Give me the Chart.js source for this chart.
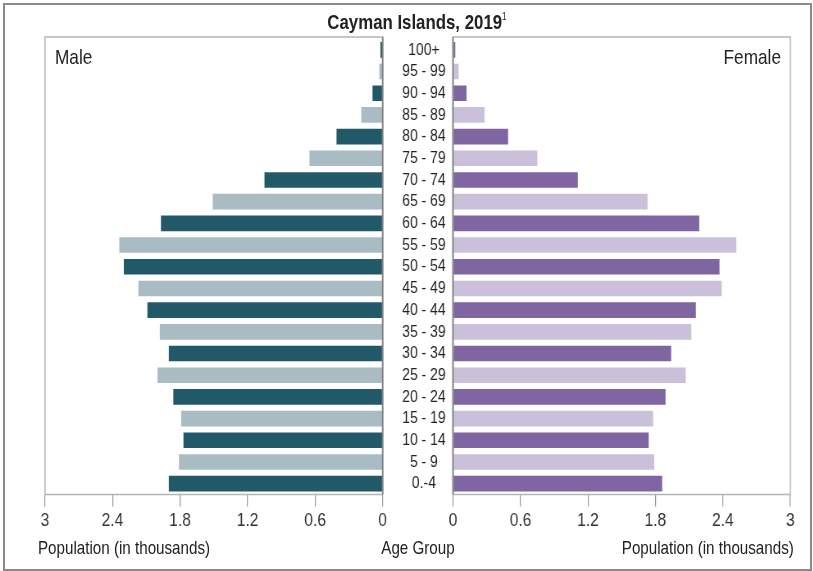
<!DOCTYPE html>
<html>
<head>
<meta charset="utf-8">
<script src="https://cdn.jsdelivr.net/npm/chart.js@4.4.1/dist/chart.umd.min.js"></script>
<style>
  body { margin: 0; background: #fff; }
  #wrap { position: relative; width: 813px; height: 571px; overflow: hidden;
          font-family: "Liberation Sans", Arial, sans-serif; color: #222; }
  #frame { position: absolute; left: 3px; top: 3px; width: 805px; height: 564px; border: 2px solid #8a8a8a; }
  /* no narrow face installed: squeeze the canvases sideways so the text reads like Arial Narrow */
  canvas { position: absolute; top: 0; transform: scaleX(0.82); transform-origin: 0 0; }
  .txt { position: absolute; white-space: nowrap; line-height: 1; }
  .l { transform: scaleX(0.82); transform-origin: 0 50%; }
  .r { transform: scaleX(0.82); transform-origin: 100% 50%; }
  .c { transform: scaleX(0.82); transform-origin: 50% 50%; }
</style>
</head>
<body>
<div id="wrap">
  <div id="frame"></div>
  <canvas id="maleChart" height="571" style="left:0"></canvas>
  <canvas id="femaleChart" height="571" style="left:423px"></canvas>
  <div class="txt c" style="left:0;width:834px;text-align:center;top:12px;font-size:20.5px;font-weight:bold;">Cayman Islands, 2019<sup style="font-size:10px;vertical-align:top;position:relative;top:0px;font-weight:normal">1</sup></div>
  <div class="txt l" style="left:55px;top:46px;font-size:21px;">Male</div>
  <div class="txt r" style="right:32px;top:46px;font-size:21px;">Female</div>
  <div class="txt l" style="left:38px;top:539px;font-size:18.5px;">Population (in thousands)</div>
  <div class="txt c" style="left:0;width:836px;text-align:center;top:539px;font-size:18.5px;">Age Group</div>
  <div class="txt r" style="right:19px;top:539px;font-size:18.5px;">Population (in thousands)</div>
</div>
<script>
var ageGroups = ['100+','95 - 99','90 - 94','85 - 89','80 - 84','75 - 79','70 - 74','65 - 69','60 - 64','55 - 59','50 - 54',
                 '45 - 49','40 - 44','35 - 39','30 - 34','25 - 29','20 - 24','15 - 19','10 - 14','5 - 9','0.-4'];
var male   = [0.02,0.03,0.09,0.19,0.41,0.65,1.05,1.51,1.97,2.34,2.30,2.17,2.09,1.98,1.90,2.00,1.86,1.79,1.77,1.81,1.90];
var female = [0.02,0.05,0.12,0.28,0.49,0.75,1.11,1.73,2.19,2.52,2.37,2.39,2.16,2.12,1.94,2.07,1.89,1.78,1.74,1.79,1.86];
var xTicks = [0,0.6,1.2,1.8,2.4,3];

var S = 0.82;   // same as the css scaleX on the canvases
var FONT = '"Liberation Sans", Arial, sans-serif';

document.getElementById('maleChart').width = Math.round(453/S);
document.getElementById('femaleChart').width = Math.round(390/S);

function stripes(dark, light){
	return ageGroups.map(function(g,i){ return i%2===0 ? dark : light; });
}

// frame round the plot area + darker zero line
var boxPlugin = {
	id: 'box',
	afterDraw: function(chart){
		var a = chart.chartArea, ctx = chart.ctx;
		var zero = chart.scales.x.getPixelForValue(0);
		ctx.save();
		ctx.strokeStyle = '#b4b4b4';
		ctx.lineWidth = 1.5;
		ctx.strokeRect(a.left, a.top - 2, a.right - a.left, a.bottom - a.top + 2);
		ctx.strokeStyle = '#808080';
		ctx.lineWidth = 1.8;
		ctx.beginPath();
		ctx.moveTo(zero, a.top - 2);
		ctx.lineTo(zero, a.bottom);
		ctx.stroke();
		ctx.restore();
	}
};

function xAxis(reverse){
	return {
		type: 'linear',
		min: 0,
		max: 3,
		reverse: reverse,
		afterBuildTicks: function(s){ s.ticks = xTicks.map(function(v){ return {value: v}; }); },
		afterFit: function(s){ s.height = 40; },
		grid: { display: true, drawOnChartArea: false, drawTicks: true, tickLength: 12, color: '#999', lineWidth: 1.2 },
		border: { display: false },
		ticks: {
			autoSkip: false,
			maxRotation: 0,
			padding: 3,
			color: '#333',
			font: { family: FONT, size: 19 },
			callback: function(v){ return String(v); }
		}
	};
}

var maleChart = new Chart(document.getElementById('maleChart'), {
	type: 'bar',
	data: {
		labels: ageGroups,
		datasets: [{
			label: 'Male',
			data: male,
			backgroundColor: stripes('#215968', '#a9bcc4'),
			categoryPercentage: 1,
			barPercentage: 0.72
		}]
	},
	options: {
		indexAxis: 'y',
		responsive: false,
		animation: false,
		layout: { padding: { left: 45/S, right: 0, top: 39, bottom: 36.5 } },
		plugins: { legend: { display: false }, tooltip: { enabled: false } },
		scales: {
			x: xAxis(true),
			y: {
				position: 'right',
				afterFit: function(s){ s.width = 70/S; },
				grid: { display: false },
				border: { display: false },
				ticks: {
					autoSkip: false,
					crossAlign: 'center',
					padding: 13/S,
					color: '#222',
					font: { family: FONT, size: 17 }
				}
			}
		}
	},
	plugins: [boxPlugin]
});

var femaleChart = new Chart(document.getElementById('femaleChart'), {
	type: 'bar',
	data: {
		labels: ageGroups,
		datasets: [{
			label: 'Female',
			data: female,
			backgroundColor: stripes('#7f65a1', '#cbc0da'),
			categoryPercentage: 1,
			barPercentage: 0.72
		}]
	},
	options: {
		indexAxis: 'y',
		responsive: false,
		animation: false,
		layout: { padding: { left: 30/S, right: 23/S, top: 39, bottom: 36.5 } },
		plugins: { legend: { display: false }, tooltip: { enabled: false } },
		scales: {
			x: xAxis(false),
			y: { display: false }
		}
	},
	plugins: [boxPlugin]
});
</script>
</body>
</html>
